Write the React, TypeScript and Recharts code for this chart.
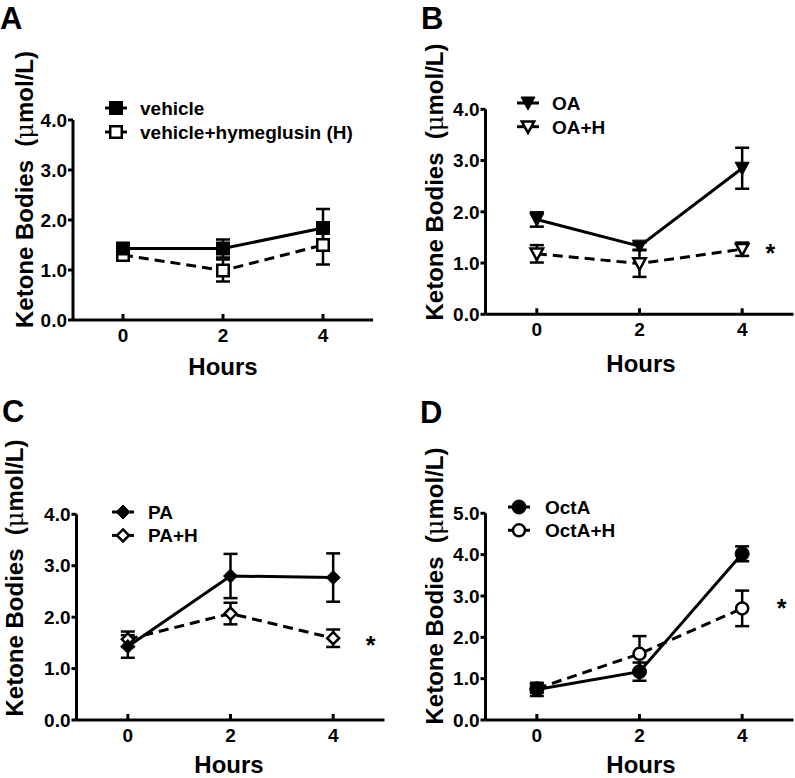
import React from 'react';
import { LineChart, Line, XAxis, YAxis, ErrorBar, Legend, ReferenceDot } from 'recharts';

// ---------- data ----------
const hours = [0, 2, 4];
const xTicks = [0, 2, 4];
const yTicks4 = [0, 1, 2, 3, 4];
const yTicks5 = [0, 1, 2, 3, 4, 5];

// Panel A
const vehicle = [1.43, 1.43, 1.84];
const vehicleErr = [0.05, 0.18, 0.38];
const vehicleH = [1.3, 0.99, 1.5];
const vehicleHErr = [0.05, 0.22, 0.39];

// Panel B
const oa = [1.85, 1.33, 2.85];
const oaErr = [0.14, 0.07, 0.4];
const oaH = [1.18, 0.99, 1.27];
const oaHErr = [0.17, 0.26, 0.13];

// Panel C
const pa = [1.43, 2.8, 2.77];
const paErr = [0.22, 0.43, 0.47];
const paH = [1.57, 2.07, 1.59];
const paHErr = [0.15, 0.21, 0.17];

// Panel D
const octa = [0.74, 1.17, 4.02];
const octaErr = [0.16, 0.22, 0.18];
const octaH = [0.76, 1.6, 2.7];
const octaHErr = [0.1, 0.43, 0.43];

// significance asterisks (data coordinates)
const starB = { x: 4.55, y: 1.29 };
const starC = { x: 4.73, y: 1.56 };
const starD = { x: 4.77, y: 2.82 };

const FONT = '"Liberation Sans", Arial, Helvetica, sans-serif';

type Shape = 'square' | 'triangle' | 'diamond' | 'circle';

function Marker({ cx, cy, shape, filled }: { cx: number; cy: number; shape: Shape; filled: boolean }) {
  const fill = filled ? '#000' : '#fff';
  const sw = filled ? 1 : 2.5;
  if (shape === 'square') {
    const s = filled ? 13 : 11.5;
    return <rect x={cx - s / 2} y={cy - s / 2} width={s} height={s} fill={fill} stroke="#000" strokeWidth={sw} />;
  }
  if (shape === 'triangle') {
    const w = filled ? 14 : 12.5;
    const h = filled ? 12 : 10.5;
    return (
      <polygon
        points={`${cx - w / 2},${cy - h / 2} ${cx + w / 2},${cy - h / 2} ${cx},${cy + h / 2 + 1}`}
        fill={fill}
        stroke="#000"
        strokeWidth={sw}
        strokeLinejoin="miter"
      />
    );
  }
  if (shape === 'diamond') {
    const r = filled ? 7 : 6;
    return (
      <polygon
        points={`${cx},${cy - r} ${cx + r},${cy} ${cx},${cy + r} ${cx - r},${cy}`}
        fill={fill}
        stroke="#000"
        strokeWidth={sw}
      />
    );
  }
  return <circle cx={cx} cy={cy} r={filled ? 7 : 6} fill={fill} stroke="#000" strokeWidth={sw} />;
}

const makeDot = (shape: Shape, filled: boolean) => (props: any) => {
  const { cx, cy, index } = props;
  if (cx == null || cy == null) return <g key={`d${index}`} />;
  return (
    <g key={`d-${shape}-${filled}-${index}`}>
      <Marker cx={cx} cy={cy} shape={shape} filled={filled} />
    </g>
  );
};

const XTick = (props: any) => {
  const { x, y, payload } = props;
  return (
    <g>
      <line x1={x} y1={y} x2={x} y2={y - 6} stroke="#000" strokeWidth={3} />
      <text x={x} y={y + 22} textAnchor="middle" fontFamily={FONT} fontWeight="bold" fontSize={19} fill="#000">
        {payload.value}
      </text>
    </g>
  );
};

const Star = (props: any) => {
  const { cx, cy } = props;
  return (
    <text x={cx} y={cy + 14} textAnchor="middle" fontFamily={FONT} fontWeight="bold" fontSize={25} fill="#000">
      *
    </text>
  );
};

function LegendBox({ labels, shape, rowGap, textOffset }: { labels: string[]; shape: Shape; rowGap: number; textOffset: number }) {
  return (
    <svg width={320} height={60} style={{ overflow: 'visible', display: 'block' }}>
      {labels.map((lab, i) => {
        const y = 12 + i * rowGap;
        return (
          <g key={lab}>
            <line x1={0} y1={y} x2={22} y2={y} stroke="#000" strokeWidth={3} />
            <Marker cx={11} cy={y} shape={shape} filled={i === 0} />
            <text x={textOffset} y={y + 7} fontFamily={FONT} fontWeight="bold" fontSize={19} fill="#000">
              {lab}
            </text>
          </g>
        );
      })}
    </svg>
  );
}

type PanelCfg = {
  left: number;
  top: number;
  width: number;
  height: number;
  yAxisW: number;
  mTop: number;
  mRight: number;
  mBottom: number;
  yMax: number;
  yTicks: number[];
  s1: number[];
  e1: number[];
  s2: number[];
  e2: number[];
  shape: Shape;
  labels: string[];
  legendLeft: number;
  legendTop: number;
  rowGap: number;
  textOffset: number;
  star?: { x: number; y: number };
};

function Panel({ cfg }: { cfg: PanelCfg }) {
  const data = hours.map((h, i) => ({ h, s1: cfg.s1[i], e1: cfg.e1[i], s2: cfg.s2[i], e2: cfg.e2[i] }));
  return (
    <div style={{ position: 'absolute', left: cfg.left, top: cfg.top, width: cfg.width, height: cfg.height }}>
      <LineChart
        width={cfg.width}
        height={cfg.height}
        data={data}
        margin={{ top: cfg.mTop, right: cfg.mRight, bottom: cfg.mBottom, left: 0 }}
      >
        <XAxis
          dataKey="h"
          type="number"
          domain={[-1, 5]}
          ticks={xTicks}
          height={30}
          axisLine={{ stroke: '#000', strokeWidth: 3 }}
          tickLine={false}
          tickSize={0}
          tickMargin={0}
          tick={<XTick />}
          allowDataOverflow
        />
        <YAxis
          type="number"
          domain={[0, cfg.yMax]}
          ticks={cfg.yTicks}
          width={cfg.yAxisW}
          axisLine={{ stroke: '#000', strokeWidth: 3 }}
          tickLine={{ stroke: '#000', strokeWidth: 3 }}
          tickSize={5}
          tickMargin={1}
          tickFormatter={(v: number) => v.toFixed(1)}
          tick={{ fill: '#000', fontSize: 19, fontWeight: 'bold', fontFamily: FONT }}
          allowDataOverflow
        />
        <Legend
          layout="horizontal"
          verticalAlign="middle"
          align="center"
          wrapperStyle={{ position: 'absolute', left: cfg.legendLeft, top: cfg.legendTop, width: 320, height: 60 }}
          content={() => <LegendBox labels={cfg.labels} shape={cfg.shape} rowGap={cfg.rowGap} textOffset={cfg.textOffset} />}
        />
        <Line
          dataKey="s2"
          stroke="#000"
          strokeWidth={3}
          strokeDasharray="10 6"
          dot={makeDot(cfg.shape, false)}
          activeDot={false}
          isAnimationActive={false}
          legendType="none"
        >
          <ErrorBar dataKey="e2" direction="y" width={7} stroke="#000" strokeWidth={2.5} />
        </Line>
        <Line
          dataKey="s1"
          stroke="#000"
          strokeWidth={3}
          dot={makeDot(cfg.shape, true)}
          activeDot={false}
          isAnimationActive={false}
          legendType="none"
        >
          <ErrorBar dataKey="e1" direction="y" width={7} stroke="#000" strokeWidth={2.5} />
        </Line>
        {cfg.star ? <ReferenceDot x={cfg.star.x} y={cfg.star.y} r={0} shape={<Star />} /> : null}
      </LineChart>
    </div>
  );
}

const panels: PanelCfg[] = [
  {
    left: 0, top: 0, width: 397, height: 389, yAxisW: 73, mTop: 120, mRight: 24, mBottom: 39,
    yMax: 4, yTicks: yTicks4, s1: vehicle, e1: vehicleErr, s2: vehicleH, e2: vehicleHErr,
    shape: 'square', labels: ['vehicle', 'vehicle+hymeglusin (H)'],
    legendLeft: 105, legendTop: 96, rowGap: 24, textOffset: 35,
  },
  {
    left: 400, top: 0, width: 395, height: 389, yAxisW: 85.5, mTop: 109.3, mRight: 1.5, mBottom: 44.7,
    yMax: 4, yTicks: yTicks4, s1: oa, e1: oaErr, s2: oaH, e2: oaHErr,
    shape: 'triangle', labels: ['OA', 'OA+H'],
    legendLeft: 117, legendTop: 91.3, rowGap: 23.7, textOffset: 35, star: starB,
  },
  {
    left: 0, top: 389, width: 397, height: 389, yAxisW: 76.5, mTop: 125.3, mRight: 12.5, mBottom: 28,
    yMax: 4, yTicks: yTicks4, s1: pa, e1: paErr, s2: paH, e2: paHErr,
    shape: 'diamond', labels: ['PA', 'PA+H'],
    legendLeft: 112, legendTop: 111.3, rowGap: 23.4, textOffset: 36, star: starC,
  },
  {
    left: 400, top: 389, width: 395, height: 389, yAxisW: 85.5, mTop: 124.3, mRight: 1.5, mBottom: 28,
    yMax: 5, yTicks: yTicks5, s1: octa, e1: octaErr, s2: octaH, e2: octaHErr,
    shape: 'circle', labels: ['OctA', 'OctA+H'],
    legendLeft: 108, legendTop: 105.7, rowGap: 23.3, textOffset: 37, star: starD,
  },
];

const panelLetters = [
  { t: 'A', x: 0, y: 28.5 },
  { t: 'B', x: 421, y: 28.5 },
  { t: 'C', x: 2, y: 422 },
  { t: 'D', x: 420, y: 423 },
];
const yTitles = [
  { x: 33, y: 189.5 },
  { x: 443, y: 182 },
  { x: 23, y: 578 },
  { x: 443, y: 586 },
];
const xTitles = [
  { x: 223, y: 375 },
  { x: 641, y: 372 },
  { x: 229, y: 772.5 },
  { x: 641, y: 772.5 },
];

export default function App() {
  return (
    <div style={{ position: 'absolute', left: 0, top: 0, width: 795, height: 778, background: '#fff', overflow: 'hidden' }}>
      {panels.map((p, i) => (
        <Panel key={i} cfg={p} />
      ))}
      <svg width={795} height={778} style={{ position: 'absolute', left: 0, top: 0, pointerEvents: 'none' }}>
        {panelLetters.map((l) => (
          <text key={l.t} x={l.x} y={l.y} fontFamily={FONT} fontWeight="bold" fontSize={31} fill="#000">
            {l.t}
          </text>
        ))}
        {yTitles.map((t, i) => (
          <text
            key={`yt${i}`}
            transform={`translate(${t.x},${t.y}) rotate(-90)`}
            textAnchor="middle"
            fontFamily={FONT}
            fontWeight="bold"
            fontSize={24}
            fill="#000"
            xmlSpace="preserve"
          >
            {'Ketone Bodies  ('}
            <tspan fontWeight="normal" fontFamily='"DejaVu Serif", serif'>μ</tspan>
            {'mol/L)'}
          </text>
        ))}
        {xTitles.map((t, i) => (
          <text key={`xt${i}`} x={t.x} y={t.y} textAnchor="middle" fontFamily={FONT} fontWeight="bold" fontSize={24} fill="#000">
            Hours
          </text>
        ))}
      </svg>
    </div>
  );
}
